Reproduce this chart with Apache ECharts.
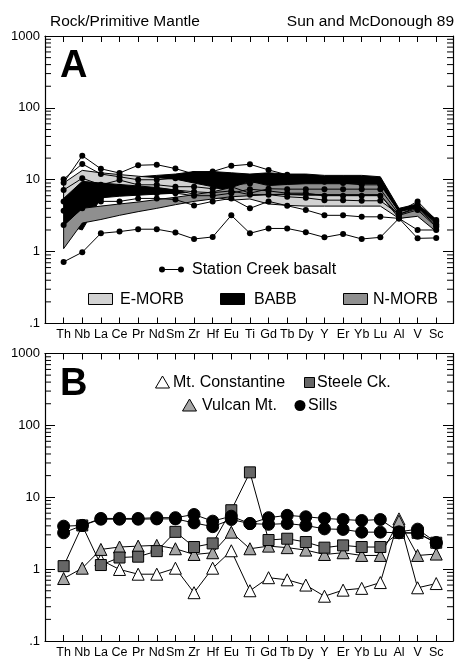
<!DOCTYPE html>
<html><head><meta charset="utf-8">
<script src="https://cdn.jsdelivr.net/npm/echarts@6/dist/echarts.min.js"></script>
<style>html,body{margin:0;padding:0;background:#fff}#c{width:456px;height:659px}</style>
</head><body><div id="c"></div>
<script>
const elements = ['Th','Nb','La','Ce','Pr','Nd','Sm','Zr','Hf','Eu','Ti','Gd','Tb','Dy','Y','Er','Yb','Lu','Al','V','Sc'];
const yTickLabels = {'-1':'.1','0':'1','1':'10','2':'100','3':'1000'};

// Panel A: Station Creek basalt samples
const sc1 = [9.1, 21.6, 14.2, 12.4, 15.9, 16.2, 14.3, 12.0, 13.0, 15.6, 16.4, 13.7, 11.7, 10.5, 9.5, 9.0, 8.5, 8.5, 3.6, 5.0, 2.75];
const sc2 = [10.2, 16.6, 12.0, 11.0, 10.0, 10.0, 10.5, 10.0, 9.5, 8.5, 8.9, 10.0, 10.0, 10.5, 9.4, 9.4, 9.0, 8.8, 3.6, 4.5, 2.6];
const sc3 = [7.2, 10.5, 8.5, 9.9, 8.5, 8.5, 8.0, 8.0, 7.5, 8.0, 6.5, 7.5, 7.4, 7.4, 7.4, 7.4, 7.4, 7.4, 3.3, 4.2, 2.4];
const sc4 = [5.0, 7.6, 5.5, 7.5, 6.5, 6.5, 6.5, 6.0, 6.0, 6.5, 7.4, 7.0, 6.5, 6.5, 6.0, 6.0, 6.0, 6.0, 3.2, 3.8, 2.2];
const sc5 = [2.35, 4.0, 5.0, 5.0, 5.5, 5.5, 5.3, 4.4, 5.0, 5.5, 4.0, 5.0, 4.35, 3.8, 3.2, 3.2, 3.05, 3.05, 2.9, 2.0, 2.0];
const sc6 = [0.72, 0.98, 1.8, 1.9, 2.05, 2.05, 1.84, 1.5, 1.6, 3.2, 1.8, 2.1, 2.1, 1.86, 1.58, 1.76, 1.5, 1.58, 2.9, 1.53, 1.55];
const sc7 = [3.7, 5.5, 7.0, 8.0, 7.6, 7.6, 7.2, 6.8, 6.6, 7.0, 6.2, 6.2, 5.8, 5.6, 5.2, 5.2, 5.1, 5.1, 3.3, 4.0, 2.3];

// Panel A: fields (lower / upper bounds)
const babbLow  = [2.4, 2.0, 5.6, 5.9, 6.1, 6.3, 6.5, 6.7, 6.8, 6.7, 6.6, 5.0, 4.8, 4.8, 4.7, 4.7, 4.7, 4.7, 3.0, 3.3, 2.0];
const babbHigh = [8.5, 11.0, 10.5, 10.5, 11.0, 11.5, 12.0, 13.0, 13.0, 12.5, 12.0, 12.5, 12.0, 12.0, 11.5, 11.5, 11.5, 11.0, 4.0, 4.6, 2.8];
const emorbLow  = [5.5, 9.5, 9.0, 8.6, 8.2, 7.8, 7.2, 6.3, 5.8, 5.2, 5.4, 4.6, 4.4, 4.3, 4.3, 4.3, 4.3, 4.3, 2.9, 3.2, 2.0];
const emorbHigh = [9.0, 13.5, 12.5, 11.8, 11.2, 10.7, 10.2, 9.0, 8.0, 6.8, 8.0, 6.3, 6.2, 6.1, 6.1, 6.1, 6.1, 6.1, 3.6, 4.0, 2.5];
const nmorbLow  = [1.1, 2.5, 2.8, 3.2, 3.6, 4.0, 4.5, 5.0, 5.4, 5.8, 6.0, 6.2, 6.3, 6.3, 6.2, 6.2, 6.2, 6.2, 2.9, 3.1, 1.9];
const nmorbHigh = [2.3, 4.0, 4.3, 4.6, 4.9, 5.3, 5.7, 6.2, 6.8, 7.8, 9.5, 8.3, 8.6, 8.8, 8.8, 8.8, 8.8, 8.8, 3.6, 4.1, 2.5];

// Panel B
const mtConstantine = [null, null, 1.34, 0.99, 0.85, 0.85, 1.03, 0.47, 1.03, 1.8, 0.5, 0.76, 0.71, 0.6, 0.42, 0.51, 0.54, 0.65, 5.0, 0.55, 0.63];
const vulcanMt = [0.74, 1.03, 1.88, 2.03, 2.09, 2.14, 1.92, 1.6, 1.69, 3.27, 1.92, 2.09, 1.99, 1.84, 1.6, 1.69, 1.55, 1.55, 4.65, 1.55, 1.62];
const steeleCk = [1.1, 4.05, 1.14, 1.45, 1.49, 1.78, 3.3, 2.03, 2.28, 6.6, 22.2, 2.54, 2.65, 2.38, 1.99, 2.14, 2.03, 2.03, 3.2, 3.2, 2.33];
const sills1 = [3.96, 4.05, 5.07, 5.07, 5.07, 5.2, 5.2, 5.75, 4.65, 5.45, 4.3, 5.2, 5.6, 5.35, 5.07, 4.9, 4.75, 4.9, 3.3, 3.6, 2.35];
const sills2 = [3.2, 4.05, 4.95, 4.95, 4.95, 5.0, 5.0, 4.4, 3.9, 4.9, 4.3, 4.2, 4.3, 4.05, 3.63, 3.57, 3.27, 3.27, 3.2, 3.16, 2.3];

const minorVals = [];
for (let k = -1; k <= 2; k++) for (let m = 2; m <= 9; m++) minorVals.push(m * Math.pow(10, k));

const FONT = 'Liberation Sans, Arial, Helvetica, sans-serif';
const XMIN = -1, XMAX = 20.9;
const grids = [
  {left: 45, top: 36, width: 409, height: 287.5},
  {left: 45, top: 353.5, width: 409, height: 288}
];

const chart = echarts.init(document.getElementById('c'), null, {renderer: 'canvas'});

const xAxes = [], yAxes = [];
grids.forEach((g, gi) => {
  xAxes.push({gridIndex: gi, type: 'value', min: XMIN, max: XMAX, interval: 1, position: 'bottom',
    axisLine: {show: true, onZero: false, lineStyle: {color: '#000', width: 1.2}},
    axisTick: {show: true, inside: true, length: 6, lineStyle: {color: '#000'}},
    splitLine: {show: false},
    axisLabel: {show: true, margin: 5, color: '#000', fontSize: 12.5, fontFamily: FONT,
      formatter: v => (Number.isInteger(v) && v >= 0 && v < elements.length) ? elements[v] : ''}
  });
  xAxes.push({gridIndex: gi, type: 'value', min: XMIN, max: XMAX, interval: 1, position: 'top',
    axisLine: {show: true, onZero: false, lineStyle: {color: '#000', width: 1.2}},
    axisTick: {show: true, inside: true, length: 6, lineStyle: {color: '#000'}},
    splitLine: {show: false}, axisLabel: {show: false}
  });
  yAxes.push({gridIndex: gi, type: 'log', logBase: 10, min: 0.1, max: 1000, splitNumber: 4, position: 'left',
    axisLine: {show: true, onZero: false, lineStyle: {color: '#000', width: 1.2}},
    axisTick: {show: true, inside: true, length: 10, lineStyle: {color: '#000'}},
    splitLine: {show: false},
    axisLabel: {show: true, margin: 5, color: '#000', fontSize: 13, fontFamily: FONT,
      formatter: v => yTickLabels[String(Math.round(Math.log10(v)))] || ''}
  });
  yAxes.push({gridIndex: gi, type: 'log', logBase: 10, min: 0.1, max: 1000, splitNumber: 4, position: 'right',
    axisLine: {show: true, onZero: false, lineStyle: {color: '#000', width: 1.2}},
    axisTick: {show: true, inside: true, length: 10, lineStyle: {color: '#000'}},
    splitLine: {show: false}, axisLabel: {show: false}
  });
});

function idxData(arr) { return arr.map((v, i) => [i, v]); }

const series = [];
grids.forEach((g, gi) => {
  series.push({
    type: 'custom', xAxisIndex: gi * 2, yAxisIndex: gi * 2, silent: true, z: 1,
    data: minorVals.map(v => [XMIN, v]),
    renderItem: (params, api) => {
      const v = api.value(1);
      const a = api.coord([XMIN, v]);
      const b = api.coord([XMAX, v]);
      return {type: 'group', children: [
        {type: 'line', shape: {x1: a[0], y1: a[1], x2: a[0] + 6, y2: a[1]}, style: {stroke: '#000', lineWidth: 1}},
        {type: 'line', shape: {x1: b[0], y1: b[1], x2: b[0] - 6, y2: b[1]}, style: {stroke: '#000', lineWidth: 1}}
      ]};
    }
  });
});

function field(low, high, color, z) {
  return {
    type: 'custom', xAxisIndex: 0, yAxisIndex: 0, silent: true, z: z,
    data: [[0, high[0]]],
    renderItem: (params, api) => {
      const pts = [];
      for (let i = 0; i < high.length; i++) pts.push(api.coord([i, high[i]]));
      for (let i = low.length - 1; i >= 0; i--) pts.push(api.coord([i, low[i]]));
      return {type: 'polygon', shape: {points: pts}, style: {fill: color, stroke: '#000', lineWidth: 1, lineJoin: 'round'}};
    }
  };
}
series.push(field(babbLow, babbHigh, '#000', 2));
series.push(field(emorbLow, emorbHigh, '#d2d2d2', 3));
series.push(field(nmorbLow, nmorbHigh, '#8f8f8f', 4));

[sc1, sc2, sc3, sc4, sc5, sc6, sc7].forEach(arr => {
  series.push({type: 'line', xAxisIndex: 0, yAxisIndex: 0, data: idxData(arr), z: 5,
    symbol: 'circle', symbolSize: 6, showSymbol: true,
    lineStyle: {color: '#000', width: 1}, itemStyle: {color: '#000'}, animation: false});
});

function bSeries(arr, symbol, size, fill, z) {
  return {type: 'line', xAxisIndex: 2, yAxisIndex: 2, data: idxData(arr), z: z, connectNulls: false,
    symbol: symbol, symbolSize: size, showSymbol: true,
    lineStyle: {color: '#000', width: 1},
    itemStyle: {color: fill, borderColor: '#000', borderWidth: 1, opacity: 1}, animation: false};
}
series.push(bSeries(mtConstantine, 'triangle', 12, '#fff', 5));
series.push(bSeries(vulcanMt, 'triangle', 12, '#a6a6a6', 6));
series.push(bSeries(steeleCk, 'rect', 11, '#666', 7));
series.push(bSeries(sills1, 'circle', 12, '#000', 8));
series.push(bSeries(sills2, 'circle', 12, '#000', 8));

const txt = (x, y, s, size, extra) => ({type: 'text', x: x, y: y, style: Object.assign({text: s, fill: '#000', font: size + 'px ' + FONT, textVerticalAlign: 'middle'}, extra || {})});
const graphic = [
  txt(50, 22, 'Rock/Primitive Mantle', 15.5),
  {type: 'text', right: 2, top: 14, style: {text: 'Sun and McDonough 89', fill: '#000', font: '15.5px ' + FONT}},
  txt(60, 67, 'A', 38, {font: 'bold 38px ' + FONT}),
  txt(60, 385, 'B', 38, {font: 'bold 38px ' + FONT}),
  {type: 'line', shape: {x1: 162, y1: 269.5, x2: 181, y2: 269.5}, style: {stroke: '#000', lineWidth: 1}},
  {type: 'circle', shape: {cx: 162, cy: 269.5, r: 3}, style: {fill: '#000'}},
  {type: 'circle', shape: {cx: 181, cy: 269.5, r: 3}, style: {fill: '#000'}},
  txt(192, 270, 'Station Creek basalt', 16),
  {type: 'rect', shape: {x: 88.5, y: 293.5, width: 24, height: 11}, style: {fill: '#d2d2d2', stroke: '#000', lineWidth: 1}},
  txt(120, 300, 'E-MORB', 16),
  {type: 'rect', shape: {x: 220.5, y: 293.5, width: 24, height: 11}, style: {fill: '#000', stroke: '#000', lineWidth: 1}},
  txt(254, 300, 'BABB', 16),
  {type: 'rect', shape: {x: 343.5, y: 293.5, width: 24, height: 11}, style: {fill: '#8f8f8f', stroke: '#000', lineWidth: 1}},
  txt(373, 300, 'N-MORB', 16),
  {type: 'polygon', shape: {points: [[162.5, 376], [155.5, 388], [169.5, 388]]}, style: {fill: '#fff', stroke: '#000', lineWidth: 1}},
  txt(173, 383, 'Mt. Constantine', 16),
  {type: 'rect', shape: {x: 304.5, y: 377.5, width: 10, height: 10}, style: {fill: '#666', stroke: '#000', lineWidth: 1}},
  txt(317, 383, 'Steele Ck.', 16),
  {type: 'polygon', shape: {points: [[189.5, 399], [182.5, 411], [196.5, 411]]}, style: {fill: '#a6a6a6', stroke: '#000', lineWidth: 1}},
  txt(202, 406, 'Vulcan Mt.', 16),
  {type: 'circle', shape: {cx: 300, cy: 405.5, r: 5.5}, style: {fill: '#000'}},
  txt(308, 406, 'Sills', 16)
];

chart.setOption({
  animation: false,
  backgroundColor: '#fff',
  grid: grids.map(g => Object.assign({containLabel: false}, g)),
  xAxis: xAxes,
  yAxis: yAxes,
  series: series,
  graphic: graphic
});
</script></body></html>
